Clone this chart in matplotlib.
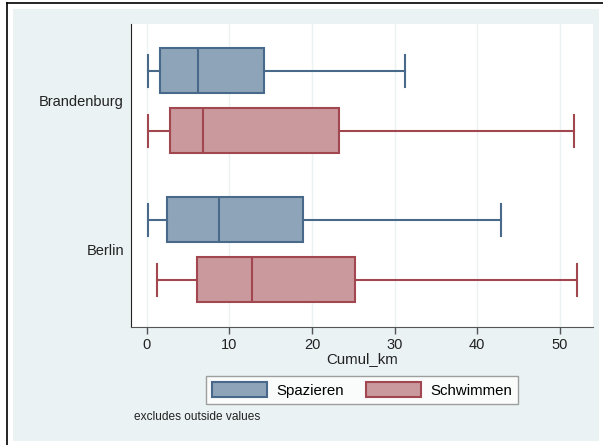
import matplotlib
matplotlib.use("Agg")
import matplotlib.pyplot as plt
from matplotlib.patches import Rectangle, Patch

plt.rcParams['font.family'] = ['Liberation Sans', 'DejaVu Sans']

groups = ["Brandenburg", "Berlin"]
series = ["Spazieren", "Schwimmen"]
# stats per group, per series: whislo, q1, med, q3, whishi
whislo = {"Brandenburg": [0.1, 0.1], "Berlin": [0.1, 1.3]}
q1 = {"Brandenburg": [1.6, 2.8], "Berlin": [2.5, 6.1]}
med = {"Brandenburg": [6.2, 6.8], "Berlin": [8.8, 12.7]}
q3 = {"Brandenburg": [14.2, 23.3], "Berlin": [18.9, 25.2]}
whishi = {"Brandenburg": [31.2, 51.7], "Berlin": [42.9, 52.1]}
xticks = [0, 10, 20, 30, 40, 50]
xlabel = "Cumul_km"
note = "excludes outside values"

fills = ["#8EA4B9", "#C9999D"]
edges = ["#48698A", "#A2464F"]
bg = "#EAF2F3"

fig = plt.figure(figsize=(6.03, 4.45), dpi=100)
fig.patch.set_facecolor("white")
# graph region
fig.add_artist(Rectangle((13/603, 4/445), 586/603, 432/445, transform=fig.transFigure,
                         facecolor=bg, edgecolor="none", zorder=0))
# outer frame lines
fig.add_artist(plt.Line2D([7/603, 7/603], [0, 1 - 3/445], transform=fig.transFigure, color="black", lw=1.2))
fig.add_artist(plt.Line2D([7/603, 1], [1 - 3/445, 1 - 3/445], transform=fig.transFigure, color="black", lw=1.2))

ax = fig.add_axes([131/603, 1 - 327/445, (593-131)/603, (327-24)/445])
ax.set_facecolor("white")

pair_pos = [0.0, 2.483]
ytick_pos = []
for gi, g in enumerate(groups):
    base = pair_pos[gi]
    ytick_pos.append(base + 0.5)
    for si in range(2):
        st = [dict(whislo=whislo[g][si], q1=q1[g][si], med=med[g][si],
                   q3=q3[g][si], whishi=whishi[g][si], fliers=[])]
        ax.bxp(st, positions=[base + si], vert=False, widths=0.75, capwidths=0.52,
               patch_artist=True, showfliers=False,
               boxprops=dict(facecolor=fills[si], edgecolor=edges[si], linewidth=1.5),
               medianprops=dict(color=edges[si], linewidth=1.5),
               whiskerprops=dict(color=edges[si], linewidth=1.5),
               capprops=dict(color=edges[si], linewidth=1.5),
               manage_ticks=False)

ax.set_ylim(4.267, -0.783)
ax.set_xlim(-1.9, 54.0)
ax.set_yticks(ytick_pos)
ax.set_yticklabels(groups, fontsize=10.5, color="#222222")
ax.tick_params(axis="y", length=0, pad=5)
ax.set_xticks(xticks)
ax.set_xticklabels([str(t) for t in xticks], fontsize=10.5, color="#222222")
ax.tick_params(axis="x", length=5, width=1, color="#555555", pad=3)
ax.set_xlabel(xlabel, fontsize=10.8, color="#222222", labelpad=0)
ax.grid(axis="x", color=bg, linewidth=1.0)
ax.set_axisbelow(True)
for s in ["top", "right"]:
    ax.spines[s].set_visible(False)
ax.spines["left"].set_color("#222222")
ax.spines["bottom"].set_color("#555555")

handles = [Patch(facecolor=fills[i], edgecolor=edges[i], linewidth=1.5, label=series[i]) for i in range(2)]
leg = fig.legend(handles=handles, loc="center", bbox_to_anchor=(362/603, 1 - 390/445), ncol=2,
                 fontsize=10.8, frameon=True, fancybox=False, edgecolor="#888888",
                 handlelength=3.7, handleheight=1.1, columnspacing=1.45, handletextpad=0.6,
                 borderpad=0.4, borderaxespad=0)
leg.get_frame().set_linewidth(1.0)

fig.text(134/603, 1 - 417/445, note, fontsize=8.6, color="#222222", va="center", ha="left")

fig.savefig("out.png", dpi=100)
